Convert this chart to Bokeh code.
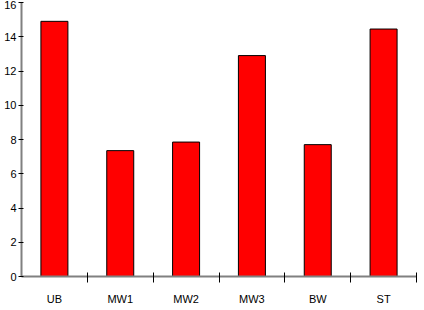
from bokeh.plotting import figure
from bokeh.models import FixedTicker, Range1d, ColumnDataSource
from bokeh.embed import file_html
from bokeh.resources import INLINE

categories = ["UB", "MW1", "MW2", "MW3", "BW", "ST"]
values = [14.9, 7.35, 7.85, 12.9, 7.7, 14.45]
y_ticks = [0, 2, 4, 6, 8, 10, 12, 14, 16]

centers = [i + 0.5 for i in range(len(categories))]
bounds = [i + 1 for i in range(len(categories))]

src = ColumnDataSource(dict(x=centers, top=values, cat=categories))

p = figure(width=424, height=310, output_backend="svg", toolbar_location=None,
           x_range=Range1d(0, len(categories)), y_range=Range1d(0, 16),
           min_border_left=21, min_border_right=8, min_border_top=2, min_border_bottom=34)
p.vbar(x="x", top="top", bottom=0, width=0.41, source=src,
       fill_color="#ff0000", line_color="#000000", line_width=1)

p.grid.visible = False
p.outline_line_color = None
p.background_fill_color = "white"
p.border_fill_color = "white"

xa = p.xaxis[0]
xa.ticker = FixedTicker(ticks=centers, minor_ticks=bounds)
xa.major_label_overrides = {c: cat for c, cat in zip(centers, categories)}
xa.major_tick_line_color = None
xa.major_tick_in = 0
xa.major_tick_out = 0
xa.minor_tick_in = 4
xa.minor_tick_out = 6
xa.minor_tick_line_color = "#000000"
xa.axis_line_color = "#808080"
xa.axis_line_width = 2
xa.major_label_standoff = 10

ya = p.yaxis[0]
ya.ticker = FixedTicker(ticks=y_ticks)
ya.major_tick_in = 2
ya.major_tick_out = 3
ya.minor_tick_line_color = None
ya.major_tick_line_color = "#000000"
ya.axis_line_color = "#808080"
ya.axis_line_width = 2
ya.major_label_standoff = 2

for ax in (xa, ya):
    ax.major_label_text_font = "Liberation Sans"
    ax.major_label_text_font_size = "11px"
    ax.major_label_text_color = "#000000"

open("out.html", "w").write(file_html(p, INLINE))
